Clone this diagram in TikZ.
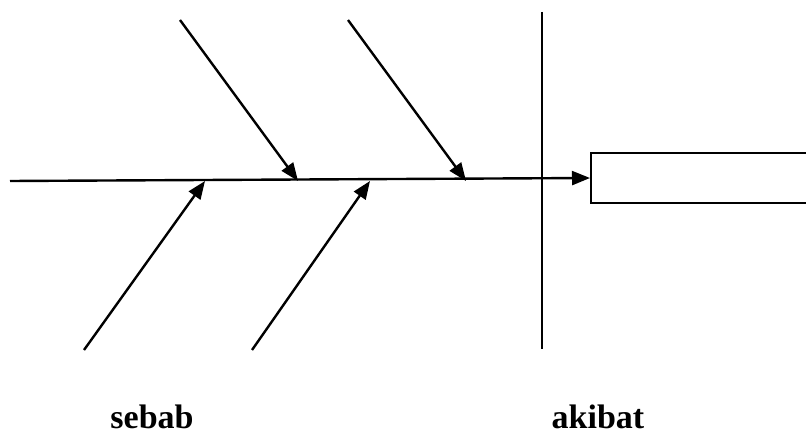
\documentclass[tikz,border=0pt]{standalone}
\usepackage{fontspec}
\setmainfont{Liberation Serif}
\usetikzlibrary{arrows.meta}
\begin{document}
\begin{tikzpicture}[x=1pt,y=-1pt,
  bone/.style={line width=2.4pt},
  bonearrow/.style={bone,-{Triangle[length=18pt,width=14pt]}},
  effectbox/.style={draw,line width=2.4pt,minimum width=240pt,minimum height=50pt,anchor=west,inner sep=0pt},
  caption/.style={font=\bfseries\fontsize{34}{40}\selectfont,anchor=base}]
\useasboundingbox (0,0) rectangle (806,441);
\clip (0,0) rectangle (806,441);
% effect box on the right
\node[effectbox] (akibatbox) at (590,178) {};
% main spine
\coordinate (spinestart) at (10,181);
\draw[bonearrow] (spinestart) -- (akibatbox.west);
% separator between causes and effect
\coordinate (septop) at (542,12);
\coordinate (sepbot) at (542,349);
\draw[bone] (septop) -- (sepbot);
% upper cause bones
\coordinate (u1) at (180,20);  \coordinate (u1e) at (298,181);
\coordinate (u2) at (348,20);  \coordinate (u2e) at (466,181);
\draw[bonearrow] (u1) -- (u1e);
\draw[bonearrow] (u2) -- (u2e);
% lower cause bones
\coordinate (l1) at (84,350);  \coordinate (l1e) at (205,181);
\coordinate (l2) at (252,350); \coordinate (l2e) at (370,181);
\draw[bonearrow] (l1) -- (l1e);
\draw[bonearrow] (l2) -- (l2e);
% captions
\node[caption] (sebab) at (152,428) {sebab};
\node[caption] (akibat) at (598,428) {akibat};
\end{tikzpicture}
\end{document}
